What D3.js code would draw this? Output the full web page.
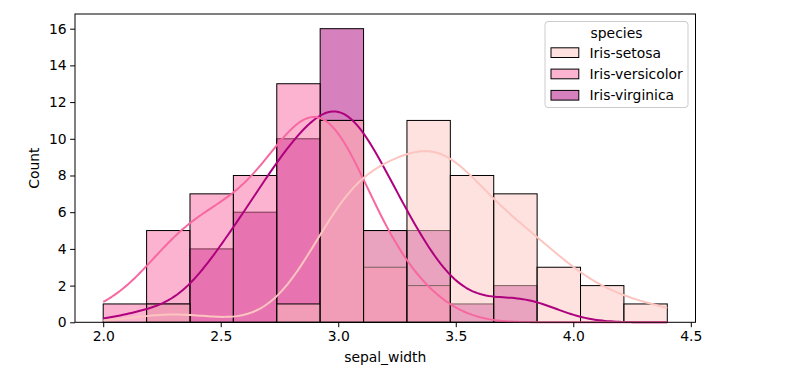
<!DOCTYPE html>
<html>
<head>
<meta charset="utf-8">
<script src="https://cdn.jsdelivr.net/npm/d3@7"></script>
<style>
  html, body { margin: 0; padding: 0; background: #fff; }
  svg { display: block; }
  text { font-family: "DejaVu Sans", sans-serif; }
</style>
</head>
<body>
<svg id="chart" width="798" height="376"></svg>
<script>
// ---------------- data ----------------
const species = ["Iris-setosa", "Iris-versicolor", "Iris-virginica"];
const colors = ["#fcc5c0", "#f768a1", "#ae017e"];
const binStart = 2.0, binEnd = 4.4, binCount = 13;
// histogram counts per bin (13 bins from 2.0 to 4.4)
const setosaCounts     = [0, 1, 0, 0, 1, 11, 5, 11, 8, 7, 3, 2, 1];
const versicolorCounts = [1, 5, 7, 8, 13, 11, 3, 2, 0, 0, 0, 0, 0];
const virginicaCounts  = [0, 1, 4, 6, 10, 16, 5, 5, 1, 2, 0, 0, 0];
// raw sepal_width observations (used for the KDE curves)
const setosaValues = [3.5,3.0,3.2,3.1,3.6,3.9,3.4,3.4,2.9,3.1,3.7,3.4,3.0,3.0,4.0,4.4,3.9,3.5,3.8,3.8,3.4,3.7,3.6,3.3,3.4,3.0,3.4,3.5,3.4,3.2,3.1,3.4,4.1,4.2,3.1,3.2,3.5,3.1,3.0,3.4,3.5,2.3,3.2,3.5,3.8,3.0,3.8,3.2,3.7,3.3];
const versicolorValues = [3.2,3.2,3.1,2.3,2.8,2.8,3.3,2.4,2.9,2.7,2.0,3.0,2.2,2.9,2.9,3.1,3.0,2.7,2.2,2.5,3.2,2.8,2.5,2.8,2.9,3.0,2.8,3.0,2.9,2.6,2.4,2.4,2.7,2.7,3.0,3.4,3.1,2.3,3.0,2.5,2.6,3.0,2.6,2.3,2.7,3.0,2.9,2.9,2.5,2.8];
const virginicaValues = [3.3,2.7,3.0,2.9,3.0,3.0,2.5,2.9,2.5,3.6,3.2,2.7,3.0,2.5,2.8,3.2,3.0,3.8,2.6,2.2,3.2,2.8,2.8,2.7,3.3,3.2,2.8,3.0,2.8,3.0,2.8,3.8,2.8,2.8,2.6,3.0,3.4,3.1,3.0,3.1,3.1,3.1,2.7,3.2,3.3,3.0,2.5,3.0,3.4,3.0];
const xTicks = [2.0, 2.5, 3.0, 3.5, 4.0, 4.5];
const yTicks = [0, 2, 4, 6, 8, 10, 12, 14, 16];
const xLabel = "sepal_width", yLabel = "Count", legendTitle = "species";

const countsBySpecies = [setosaCounts, versicolorCounts, virginicaCounts];
const valuesBySpecies = [setosaValues, versicolorValues, virginicaValues];

// ---------------- layout ----------------
const svg = d3.select("#chart");
const pL = 75, pR = 695.5, pT = 14, pB = 322.3;
const x = d3.scaleLinear().domain([1.88, 4.52]).range([pL, pR]);
const y = d3.scaleLinear().domain([0, 16.8]).range([pB, pT]);
const fs = 13.9;

const binW = (binEnd - binStart) / binCount;
const edges = d3.range(binCount + 1).map(i => binStart + i * binW);

function withAlpha(c, a) { const col = d3.color(c); col.opacity = a; return col.formatRgb(); }

// bars: drawn in reverse hue order (virginica first, setosa on top)
const gBars = svg.append("g");
for (let s = species.length - 1; s >= 0; s--) {
  const counts = countsBySpecies[s];
  gBars.append("g").selectAll("rect")
    .data(counts.map((c, i) => ({c, i})).filter(d => d.c > 0))
    .join("rect")
    .attr("x", d => x(edges[d.i]))
    .attr("y", d => y(d.c))
    .attr("width", d => x(edges[d.i + 1]) - x(edges[d.i]))
    .attr("height", d => y(0) - y(d.c))
    .attr("fill", withAlpha(colors[s], 0.5))
    .attr("stroke", "#000")
    .attr("stroke-width", 1);
}

// KDE (gaussian, Scott bandwidth, common support over all data, cut = 0), scaled to counts
const allValues = valuesBySpecies.flat();
const supLo = d3.min(allValues), supHi = d3.max(allValues);
function kdeCurve(vals) {
  const n = vals.length;
  const sd = d3.deviation(vals);
  const bw = sd * Math.pow(n, -1 / 5);
  const pts = [];
  const G = 200;
  for (let k = 0; k < G; k++) {
    const t = supLo + (supHi - supLo) * k / (G - 1);
    let dens = 0;
    for (const v of vals) { const z = (t - v) / bw; dens += Math.exp(-0.5 * z * z); }
    dens /= (n * bw * Math.sqrt(2 * Math.PI));
    pts.push([t, dens * n * binW]);
  }
  return pts;
}
const line = d3.line().x(d => x(d[0])).y(d => y(d[1])).curve(d3.curveLinear);
const gLines = svg.append("g");
for (let s = species.length - 1; s >= 0; s--) {
  gLines.append("path")
    .attr("d", line(kdeCurve(valuesBySpecies[s])))
    .attr("fill", "none")
    .attr("stroke", colors[s])
    .attr("stroke-width", 2)
    .attr("stroke-linejoin", "round")
    .attr("stroke-linecap", "butt");
}

// axes frame
svg.append("rect").attr("x", pL).attr("y", pT)
  .attr("width", pR - pL).attr("height", pB - pT)
  .attr("fill", "none").attr("stroke", "#000").attr("stroke-width", 1);

// x axis
const xAxis = d3.axisBottom(x).tickValues(xTicks).tickFormat(d3.format(".1f"))
  .tickSize(4.9).tickPadding(3.5);
const gx = svg.append("g").attr("transform", `translate(0,${pB})`).call(xAxis);
gx.select(".domain").remove();
gx.selectAll("text").attr("font-size", fs).attr("fill", "#000").attr("font-family", "DejaVu Sans");
gx.selectAll("line").attr("stroke", "#000");

// y axis
const yAxis = d3.axisLeft(y).tickValues(yTicks).tickFormat(d3.format("d"))
  .tickSize(4.9).tickPadding(3.5);
const gy = svg.append("g").attr("transform", `translate(${pL},0)`).call(yAxis);
gy.select(".domain").remove();
gy.selectAll("text").attr("font-size", fs).attr("fill", "#000").attr("font-family", "DejaVu Sans");
gy.selectAll("line").attr("stroke", "#000");

// axis labels
svg.append("text").attr("x", (pL + pR) / 2).attr("y", 362)
  .attr("text-anchor", "middle").attr("font-size", fs).text(xLabel);
svg.append("text").attr("transform", `translate(39,${(pT + pB) / 2}) rotate(-90)`)
  .attr("text-anchor", "middle").attr("font-size", fs).text(yLabel);

// legend
const lg = svg.append("g");
lg.append("rect").attr("x", 545).attr("y", 21.5).attr("width", 143).attr("height", 86)
  .attr("rx", 3).attr("fill", "rgba(255,255,255,0.8)").attr("stroke", "#cccccc").attr("stroke-width", 1);
lg.append("text").attr("x", 616.5).attr("y", 37.5).attr("text-anchor", "middle")
  .attr("font-size", fs).text(legendTitle);
species.forEach((sp, i) => {
  const cy = 52.7 + i * 21.3;
  lg.append("rect").attr("x", 551).attr("y", cy - 4.9).attr("width", 27.8).attr("height", 9.7)
    .attr("fill", withAlpha(colors[i], 0.5)).attr("stroke", "#000").attr("stroke-width", 1);
  lg.append("text").attr("x", 589.5).attr("y", cy + 5).attr("font-size", fs).text(sp);
});
</script>
</body>
</html>
